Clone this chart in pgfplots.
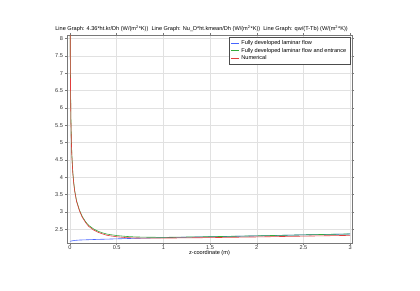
\documentclass[border=0pt]{standalone}
\usepackage{pgfplots}
\pgfplotsset{compat=1.18}
\usepackage{fontspec}
\setmainfont{Liberation Sans}
\definecolor{cblue}{RGB}{70,100,255}
\definecolor{cgreen}{RGB}{50,170,60}
\definecolor{cred}{RGB}{225,60,60}
\definecolor{gridc}{RGB}{225,225,225}
\definecolor{axc}{RGB}{120,120,120}
\newcommand{\fs}{\fontsize{5.6}{6.5}\selectfont}
\begin{document}
\fs
\begin{tikzpicture}
\path[use as bounding box] (0,0) rectangle (420pt,290pt);
\begin{axis}[
  at={(67pt,47pt)}, anchor=south west,
  width=285pt, height=208pt, scale only axis,
  xmin=-0.032, xmax=3.02, ymin=2.1, ymax=8.1,
  xtick={0,0.5,1,1.5,2,2.5,3},
  ytick={2.5,3,3.5,4,4.5,5,5.5,6,6.5,7,7.5,8},
  /pgf/number format/assume math mode=true,
  ticklabel style={font=\fs, text=black!80},
  xticklabel style={yshift=1pt},
  tick align=outside, tick pos=both,
  major tick length=2pt,
  tick style={axc, line width=0.4pt},
  axis line style={axc, line width=0.6pt},
  grid=major, major grid style={gridc, line width=0.4pt},
  xlabel={z-coordinate (m)},
  xlabel style={font=\fs, yshift=4pt},
  title={Line Graph: 4.36*ht.kr/Dh (W/(m\textsuperscript{2}*K))\ \ Line Graph: Nu\_D*ht.kmean/Dh (W/(m\textsuperscript{2}*K))\ \ Line Graph: qw/(T-Tb) (W/(m\textsuperscript{2}*K))},
  title style={font=\fs, at={(0.472,1)}, anchor=south, yshift=-5pt},
  legend style={at={(1,1)}, anchor=north east, xshift=-2pt, yshift=-2pt,
    font=\fs, draw=black!70, line width=0.5pt,
    row sep=-1.5pt, inner sep=1.5pt},
  legend cell align=left,
  legend image code/.code={\draw[#1] (0pt,0pt) -- (8pt,0pt);},
  every axis plot/.append style={line width=0.6pt},
]
\addplot[cblue] coordinates {
(0,2.15) (0.02,2.16) (0.05,2.175) (0.1,2.185) (0.2,2.195) (0.3,2.205) (0.4,2.212) (0.5,2.22) (0.7,2.235) (1.0,2.255) (1.5,2.28) (2.0,2.305) (2.5,2.335) (3.0,2.36)};
\addlegendentry{Fully developed laminar flow}
\addplot[cgreen] coordinates {
(0,10) (0.003,7.6) (0.006,6.6) (0.01,5.7) (0.015,5.05) (0.02,4.65) (0.03,4.15) (0.04,3.85) (0.05,3.62) (0.07,3.32) (0.1,3.06) (0.13,2.87) (0.17,2.70) (0.2,2.61) (0.25,2.51) (0.3,2.44) (0.35,2.39) (0.4,2.355) (0.5,2.315) (0.6,2.29) (0.7,2.275) (0.8,2.268) (1.0,2.262) (1.5,2.282) (2.0,2.307) (2.5,2.335) (3.0,2.362)};
\addlegendentry{Fully developed laminar flow and entrance}
\addplot[cred] coordinates {
(0,10) (0.003,7.5) (0.006,6.5) (0.01,5.6) (0.015,5.0) (0.02,4.6) (0.03,4.12) (0.04,3.82) (0.05,3.6) (0.07,3.3) (0.1,3.04) (0.13,2.85) (0.17,2.68) (0.2,2.58) (0.25,2.48) (0.3,2.41) (0.35,2.36) (0.4,2.32) (0.5,2.28) (0.6,2.255) (0.7,2.245) (0.8,2.24) (1.0,2.242) (1.5,2.255) (2.0,2.275) (2.5,2.298) (3.0,2.32)};
\addlegendentry{Numerical}
\end{axis}
\end{tikzpicture}
\end{document}
